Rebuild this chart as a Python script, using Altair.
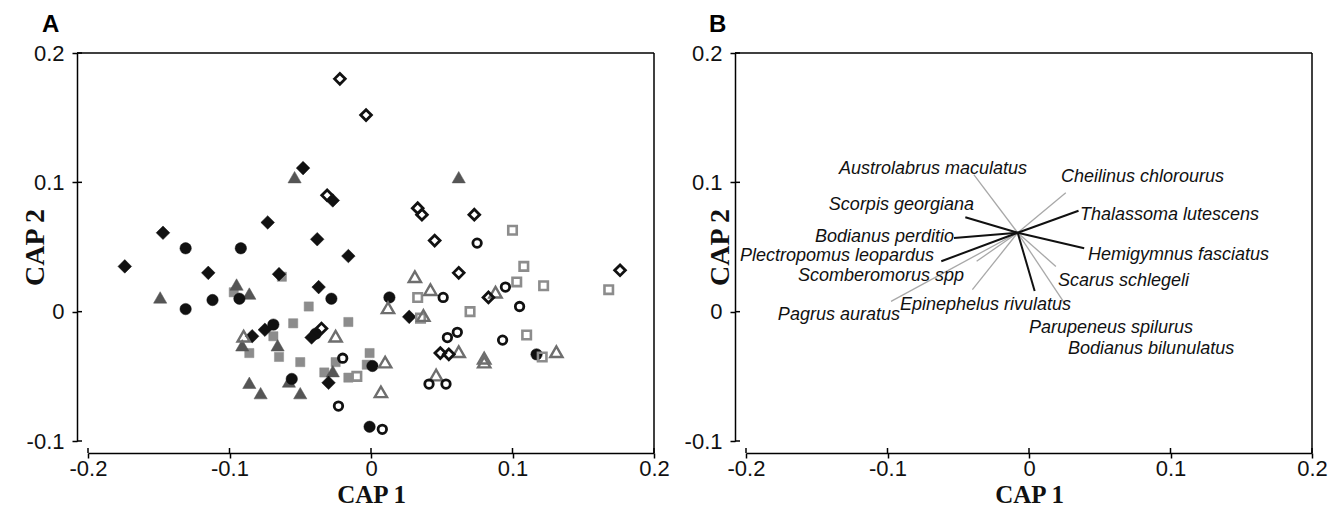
import altair as alt
import pandas as pd

# ---------------- data: panel A (CAP ordination scores) ----------------
# filled black diamonds
fd_x = [-0.048, -0.027, -0.073, -0.147, -0.038, -0.016, -0.174, -0.115, -0.065, -0.037, -0.075, -0.042, -0.030, 0.027, -0.084]
fd_y = [0.111, 0.086, 0.069, 0.061, 0.056, 0.043, 0.035, 0.030, 0.029, 0.019, -0.014, -0.020, -0.055, -0.004, -0.019]
# filled black circles
fc_x = [-0.131, -0.092, -0.093, -0.112, -0.131, -0.028, 0.013, -0.069, -0.039, 0.001, -0.056, -0.001, 0.117]
fc_y = [0.049, 0.049, 0.010, 0.009, 0.002, 0.010, 0.011, -0.010, -0.017, -0.042, -0.052, -0.089, -0.033]
# filled dark-grey triangles
ft_x = [-0.054, 0.062, -0.095, -0.086, -0.149, -0.091, -0.066, -0.027, -0.058, -0.086, -0.078, -0.050]
ft_y = [0.104, 0.104, 0.021, 0.014, 0.011, -0.026, -0.026, -0.046, -0.054, -0.055, -0.063, -0.063]
# filled grey squares
fs_x = [-0.063, -0.097, -0.044, -0.055, -0.016, -0.069, -0.086, -0.065, -0.050, -0.025, -0.001, -0.003, -0.033, -0.016]
fs_y = [0.027, 0.015, 0.004, -0.009, -0.008, -0.019, -0.032, -0.035, -0.039, -0.039, -0.032, -0.041, -0.047, -0.051]
# open black diamonds
od_x = [-0.022, -0.0035, -0.031, 0.033, 0.036, 0.073, 0.045, 0.176, 0.062, 0.083, -0.035, 0.049, 0.055]
od_y = [0.180, 0.152, 0.090, 0.080, 0.075, 0.075, 0.055, 0.032, 0.030, 0.011, -0.013, -0.032, -0.033]
# open black circles
oc_x = [0.075, 0.095, 0.051, 0.105, 0.061, 0.054, 0.093, -0.020, 0.041, 0.053, -0.023, 0.008]
oc_y = [0.053, 0.019, 0.011, 0.004, -0.016, -0.020, -0.022, -0.036, -0.056, -0.056, -0.073, -0.091]
# open grey triangles
ot_x = [0.012, -0.025, -0.090, 0.010, 0.007, 0.031, 0.042, 0.088, 0.037, 0.062, 0.080, 0.080, 0.131, 0.046]
ot_y = [0.003, -0.019, -0.019, -0.039, -0.062, 0.027, 0.017, 0.015, -0.003, -0.031, -0.036, -0.039, -0.031, -0.049]
# open grey squares
os_x = [0.100, 0.108, 0.103, 0.122, 0.168, 0.033, 0.070, 0.035, 0.110, 0.121, -0.010]
os_y = [0.063, 0.035, 0.023, 0.020, 0.017, 0.011, 0.000, -0.005, -0.018, -0.035, -0.050]

# ---------------- data: panel B (species vectors) ----------------
vec_origin_x = -0.008
vec_origin_y = 0.061
species = ["Austrolabrus maculatus", "Cheilinus chlorourus", "Scorpis georgiana",
           "Thalassoma lutescens", "Bodianus perditio", "Hemigymnus fasciatus",
           "Plectropomus leopardus", "Scomberomorus spp", "Scarus schlegeli",
           "Epinephelus rivulatus", "Pagrus auratus", "Parupeneus spilurus",
           "Bodianus bilunulatus"]
vec_end_x = [-0.039, 0.026, -0.045, 0.035, -0.053, 0.039, -0.062, -0.037, 0.019, -0.040, -0.0975, 0.004, 0.026]
vec_end_y = [0.106, 0.092, 0.073, 0.078, 0.057, 0.049, 0.039, 0.039, 0.035, 0.017, 0.008, 0.016, 0.005]
vec_kind = ["grey", "grey", "black", "black", "black", "black", "black", "grey", "grey", "grey", "grey", "black", "grey"]
label_x = [-0.0014, 0.0226, -0.0389, 0.0360, -0.0530, 0.0417, -0.0671, -0.0459, 0.0205, -0.0912, -0.0912, 0.0000, 0.0276]
label_y = [0.1106, 0.1044, 0.0828, 0.0750, 0.0580, 0.0441, 0.0433, 0.0278, 0.0240, 0.0054, -0.0023, -0.0124, -0.0286]
label_align = ["right", "left", "right", "left", "right", "left", "right", "right", "left", "left", "right", "left", "left"]

X_TICKS = [-0.2, -0.1, 0.0, 0.1, 0.2]
Y_TICKS = [-0.1, 0.0, 0.1, 0.2]
panel_letters = ["A", "B"]

# ---------------- layout constants ----------------
W, H = 566, 388
YOFF, XOFF = 11, 12
TICK = 5
LABEL_FONT = "Liberation Sans"
TITLE_FONT = "Liberation Serif"

label_expr = ("datum.value == 0 ? '0' : (datum.value < 0 ? '-' + format(-datum.value, '.1f') "
              ": format(datum.value, '.1f'))")

xscale = alt.Scale(domain=[-0.2, 0.2], nice=False, zero=False)
yscale = alt.Scale(domain=[-0.1, 0.2], nice=False, zero=False)


def x_axis():
    return alt.Axis(values=X_TICKS, labelExpr=label_expr, offset=XOFF, title="CAP 1",
                    grid=False, labelFlush=False, labelOverlap=False,
                    tickSize=TICK, labelPadding=0, titlePadding=3, titleFontSize=25)


def y_axis(title_x):
    return alt.Axis(values=Y_TICKS, labelExpr=label_expr, offset=YOFF, title="CAP 2",
                    grid=False, labelFlush=False, labelOverlap=False,
                    tickSize=TICK, labelPadding=8, titleX=title_x, titleFontSize=28,
                    titleBaseline="middle", titleAlign="center")


def points(xs, ys, shape, filled, color, size, sw=2.8):
    df = pd.DataFrame({"x": xs, "y": ys})
    if filled:
        mk = alt.Chart(df).mark_point(shape=shape, filled=True, fill=color, stroke=color,
                                      strokeWidth=0.5, size=size, opacity=1)
    else:
        mk = alt.Chart(df).mark_point(shape=shape, filled=False, stroke=color,
                                      strokeWidth=sw, size=size, opacity=1)
    return mk.encode(x=alt.X("x:Q", scale=xscale, axis=x_axis()),
                     y=alt.Y("y:Q", scale=yscale, axis=y_axis(-42)))


def frame_layers(letter, letter_dx):
    tick_df = pd.DataFrame({"v": Y_TICKS})
    xtick_df = pd.DataFrame({"v": X_TICKS})
    top = alt.Chart(tick_df.head(1)).mark_rule(color="black", strokeWidth=1.5).encode(
        x=alt.value(-YOFF), x2=alt.value(W), y=alt.value(0))
    right = alt.Chart(tick_df.head(1)).mark_rule(color="black", strokeWidth=1.5).encode(
        x=alt.value(W), y=alt.value(0), y2=alt.value(H + XOFF))
    yin = alt.Chart(tick_df).mark_rule(color="black", strokeWidth=1.5).encode(
        y=alt.Y("v:Q", scale=yscale), x=alt.value(-YOFF), x2=alt.value(-YOFF + TICK))
    xin = alt.Chart(xtick_df).mark_rule(color="black", strokeWidth=1.5).encode(
        x=alt.X("v:Q", scale=xscale), y=alt.value(H + XOFF - TICK), y2=alt.value(H + XOFF))
    let = alt.Chart(pd.DataFrame({"t": [letter]})).mark_text(
        font=LABEL_FONT, fontSize=24, fontWeight="bold", align="left", baseline="alphabetic",
        color="black").encode(text="t:N", x=alt.value(letter_dx), y=alt.value(-21))
    return [top, right, yin, xin, let]


BLACK = "#111111"
layersA = [
    points(fs_x, fs_y, "square", True, "#8c8c8c", 85),
    points(ft_x, ft_y, "triangle-up", True, "#555555", 175),
    points(fc_x, fc_y, "circle", True, BLACK, 130),
    points(fd_x, fd_y, "diamond", True, BLACK, 185),
    points(os_x, os_y, "square", False, "#8c8c8c", 72, 2.6),
    points(ot_x, ot_y, "triangle-up", False, "#6e6e6e", 150, 2.4),
    points(oc_x, oc_y, "circle", False, BLACK, 72),
    points(od_x, od_y, "diamond", False, BLACK, 115),
] + frame_layers(panel_letters[0], -46)

panelA = alt.layer(*layersA).properties(width=W, height=H)

vec_df = pd.DataFrame({"x0": [vec_origin_x] * len(species), "y0": [vec_origin_y] * len(species),
                       "x1": vec_end_x, "y1": vec_end_y, "kind": vec_kind, "sp": species})
lab_df = pd.DataFrame({"sp": species, "lx": label_x, "ly": label_y, "al": label_align})

grey_vec = alt.Chart(vec_df).transform_filter("datum.kind == 'grey'").mark_rule(
    color="#a8a8a8", strokeWidth=1.3).encode(
    x=alt.X("x0:Q", scale=xscale, axis=x_axis()),
    y=alt.Y("y0:Q", scale=yscale, axis=y_axis(-15)),
    x2="x1:Q", y2="y1:Q")
black_vec = alt.Chart(vec_df).transform_filter("datum.kind == 'black'").mark_rule(
    color=BLACK, strokeWidth=2).encode(
    x=alt.X("x0:Q", scale=xscale), y=alt.Y("y0:Q", scale=yscale), x2="x1:Q", y2="y1:Q")
lab_r = alt.Chart(lab_df).transform_filter("datum.al == 'right'").mark_text(
    font=LABEL_FONT, fontSize=18, fontStyle="italic", align="right", baseline="middle",
    color="#111111").encode(x=alt.X("lx:Q", scale=xscale), y=alt.Y("ly:Q", scale=yscale), text="sp:N")
lab_l = alt.Chart(lab_df).transform_filter("datum.al == 'left'").mark_text(
    font=LABEL_FONT, fontSize=18, fontStyle="italic", align="left", baseline="middle",
    color="#111111").encode(x=alt.X("lx:Q", scale=xscale), y=alt.Y("ly:Q", scale=yscale), text="sp:N")

panelB = alt.layer(grey_vec, black_vec, lab_r, lab_l,
                   *frame_layers(panel_letters[1], -37)).properties(width=W, height=H)

chart = alt.hconcat(panelA, panelB, spacing=14).properties(
    padding={"left": 21, "top": 13, "right": 0, "bottom": 0}
).configure(background="white").configure_view(stroke=None).configure_axis(
    domainColor="black", domainWidth=1.5, tickColor="black", tickWidth=1.5,
    labelFont=LABEL_FONT, labelFontSize=22, labelColor="#111111",
    titleFont=TITLE_FONT, titleFontWeight="bold", titleColor="#111111"
)

chart.save("out.html", embed_options={"renderer": "svg", "actions": False})
